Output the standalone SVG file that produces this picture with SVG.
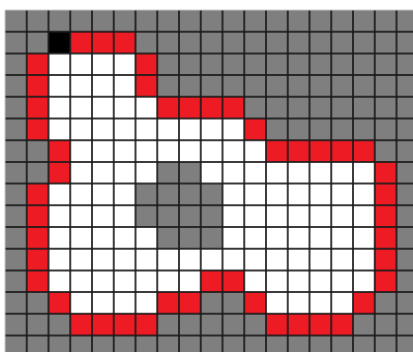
<svg xmlns="http://www.w3.org/2000/svg" width="413" height="352" viewBox="0 0 413 352">
<style>
.g{fill:#7f7f7f}
.w{fill:#ffffff}
.r{fill:#ed1c24}
.k{fill:#000000}
.ln{stroke:#1a1a1a;stroke-width:2;stroke-opacity:0.85;fill:none;vector-effect:non-scaling-stroke}
.edge{stroke:#c8c8c8;stroke-width:1;fill:none;vector-effect:non-scaling-stroke}
</style>
<rect x="0" y="0" width="413" height="352" fill="#ffffff"/>
<g id="grid" transform="translate(5,10) scale(21.75,21.7)">
<rect class="g" x="0" y="0" width="19" height="16"/>
<g id="cells">
<!-- row 1 -->
<rect class="k" x="2" y="1" width="1" height="1"/>
<rect class="r" x="3" y="1" width="3" height="1"/>
<!-- row 2 -->
<rect class="r" x="1" y="2" width="1" height="1"/>
<rect class="w" x="2" y="2" width="4" height="1"/>
<rect class="r" x="6" y="2" width="1" height="1"/>
<!-- row 3 -->
<rect class="r" x="1" y="3" width="1" height="1"/>
<rect class="w" x="2" y="3" width="4" height="1"/>
<rect class="r" x="6" y="3" width="1" height="1"/>
<!-- row 4 -->
<rect class="r" x="1" y="4" width="1" height="1"/>
<rect class="w" x="2" y="4" width="5" height="1"/>
<rect class="r" x="7" y="4" width="4" height="1"/>
<!-- row 5 -->
<rect class="r" x="1" y="5" width="1" height="1"/>
<rect class="w" x="2" y="5" width="9" height="1"/>
<rect class="r" x="11" y="5" width="1" height="1"/>
<!-- row 6 -->
<rect class="r" x="2" y="6" width="1" height="1"/>
<rect class="w" x="3" y="6" width="9" height="1"/>
<rect class="r" x="12" y="6" width="5" height="1"/>
<!-- row 7 -->
<rect class="r" x="2" y="7" width="1" height="1"/>
<rect class="w" x="3" y="7" width="4" height="1"/>
<rect class="w" x="9" y="7" width="8" height="1"/>
<rect class="r" x="17" y="7" width="1" height="1"/>
<!-- row 8 -->
<rect class="r" x="1" y="8" width="1" height="1"/>
<rect class="w" x="2" y="8" width="4" height="1"/>
<rect class="w" x="10" y="8" width="7" height="1"/>
<rect class="r" x="17" y="8" width="1" height="1"/>
<!-- row 9 -->
<rect class="r" x="1" y="9" width="1" height="1"/>
<rect class="w" x="2" y="9" width="4" height="1"/>
<rect class="w" x="10" y="9" width="7" height="1"/>
<rect class="r" x="17" y="9" width="1" height="1"/>
<!-- row 10 -->
<rect class="r" x="1" y="10" width="1" height="1"/>
<rect class="w" x="2" y="10" width="5" height="1"/>
<rect class="w" x="10" y="10" width="7" height="1"/>
<rect class="r" x="17" y="10" width="1" height="1"/>
<!-- row 11 -->
<rect class="r" x="1" y="11" width="1" height="1"/>
<rect class="w" x="2" y="11" width="15" height="1"/>
<rect class="r" x="17" y="11" width="1" height="1"/>
<!-- row 12 -->
<rect class="r" x="1" y="12" width="1" height="1"/>
<rect class="w" x="2" y="12" width="7" height="1"/>
<rect class="r" x="9" y="12" width="2" height="1"/>
<rect class="w" x="11" y="12" width="6" height="1"/>
<rect class="r" x="17" y="12" width="1" height="1"/>
<!-- row 13 -->
<rect class="r" x="2" y="13" width="1" height="1"/>
<rect class="w" x="3" y="13" width="4" height="1"/>
<rect class="r" x="7" y="13" width="2" height="1"/>
<rect class="r" x="11" y="13" width="1" height="1"/>
<rect class="w" x="12" y="13" width="4" height="1"/>
<rect class="r" x="16" y="13" width="1" height="1"/>
<!-- row 14 -->
<rect class="r" x="3" y="14" width="4" height="1"/>
<rect class="r" x="12" y="14" width="4" height="1"/>
</g>
<g id="lines">
<path class="ln" d="M1 0V16M2 0V16M3 0V16M4 0V16M5 0V16M6 0V16M7 0V16M8 0V16M9 0V16M10 0V16M11 0V16M12 0V16M13 0V16M14 0V16M15 0V16M16 0V16M17 0V16M18 0V16"/>
<path class="ln" d="M0 1H19M0 2H19M0 3H19M0 4H19M0 5H19M0 6H19M0 7H19M0 8H19M0 9H19M0 10H19M0 11H19M0 12H19M0 13H19M0 14H19M0 15H19"/>
<path class="edge" d="M0 16V0H19"/>
</g>
</g>
</svg>
